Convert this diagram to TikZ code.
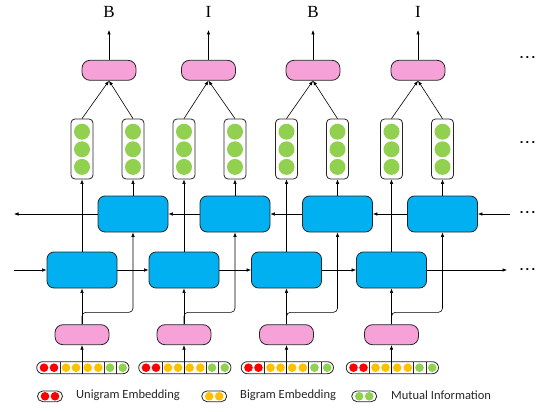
\documentclass[tikz,border=0pt]{standalone}
\usepackage{fontspec}
\setmainfont{Liberation Serif}
\newfontfamily\legfont{Carlito}
\newfontfamily\dotfont{Liberation Sans}
\usetikzlibrary{arrows.meta,calc}
\definecolor{pinkc}{HTML}{F7A1D9}
\definecolor{bluec}{HTML}{00B0F0}
\definecolor{greenc}{HTML}{92D050}
\definecolor{redc}{HTML}{FF0000}
\definecolor{yelc}{HTML}{FFC000}
\definecolor{edge}{HTML}{262626}
\tikzset{
  pinkbox/.style={draw=edge,fill=pinkc,line width=0.8pt,rounded corners=8pt,minimum width=54pt,minimum height=20pt,inner sep=0pt},
  lstm/.style={draw=edge,fill=bluec,line width=0.8pt,rounded corners=7pt,minimum width=70pt,minimum height=36pt,inner sep=0pt},
  gcol/.style={draw=edge,fill=white,line width=0.8pt,rounded corners=4pt,minimum width=22pt,minimum height=60pt,inner sep=0pt},
  gdot/.style={circle,fill=greenc,minimum size=16pt,inner sep=0pt},
  edot/.style={circle,minimum size=8.6pt,inner sep=0pt},
  barbox/.style={draw=edge,fill=white,line width=0.8pt,rounded corners=6pt,minimum width=92.3pt,minimum height=12pt,inner sep=0pt},
  legbox/.style={draw=edge,fill=white,line width=0.8pt,rounded corners=5.3pt,minimum width=25pt,minimum height=10.7pt,inner sep=0pt},
  sep/.style={draw=edge,line width=0.7pt},
  arr/.style={-{Latex[length=4.5pt,width=3.5pt]},line width=0.6pt,black},
  lbl/.style={font=\fontsize{17}{17}\selectfont,inner sep=0pt},
  legtxt/.style={font=\legfont\fontsize{12.5}{12.5}\selectfont,text=black!85,anchor=west,inner sep=0pt},
  dots/.style={font=\dotfont\fontsize{13}{13}\selectfont\bfseries,inner sep=0pt}
}
\begin{document}
\begin{tikzpicture}[x=1pt,y=-1pt]
\useasboundingbox (0,0) rectangle (544,412);
\foreach \L/\R/\T/\lab [count=\i] in {82/133/109/B, 184/235/208.5/I, 286.5/337.5/313/B, 391.5/442.5/418/I}{
  % top output
  \node[pinkbox] (t\i) at (\T,70.3) {};
  \coordinate (o\i) at (\T,30);
  \node[lbl] (lab\i) at (\T,12) {\lab};
  % green columns
  \node[gcol] (gl\i) at (\L,149) {};
  \node[gcol] (gr\i) at (\R,149) {};
  \foreach \yy in {131.7,149.3,166.9}{
    \node[gdot] at (\L,\yy) {};
    \node[gdot] at (\R,\yy) {};
  }
  % LSTM boxes
  \node[lstm] (b\i) at (\R,214) {};
  \node[lstm] (f\i) at (\L,270) {};
  % bottom pink
  \node[pinkbox] (p\i) at (\L,334.7) {};
  % embedding bar
  \node[barbox] (e\i) at (\L+0.85,367.7) {};
  \draw[sep] (\L-22,361.7) -- (\L-22,373.7);
  \draw[sep] (\L+22,361.7) -- (\L+22,373.7);
  \draw[sep] (\L+34.7,361.7) -- (\L+34.7,373.7);
  \foreach \dx in {-38,-28}{\node[edot,fill=redc] at (\L+\dx,367.7) {};}
  \foreach \dx in {-16,-6,5.7,16.3}{\node[edot,fill=yelc] at (\L+\dx,367.7) {};}
  \foreach \dx in {28,40.7}{\node[edot,fill=greenc] at (\L+\dx,367.7) {};}
  \coordinate (eb\i) at (\L,373.7);
  % connectors
  \draw[arr] (eb\i) -- (p\i.south);
  \draw[arr] (p\i.north) -- (f\i.south);
  \draw[arr,rounded corners=4pt] (p\i.north) -- ++(0,-12) -| (b\i.south);
  \draw[arr] (f\i.north) -- (gl\i.south);
  \draw[arr] (b\i.north) -- (gr\i.south);
  \draw[arr] (gl\i.north) -- (t\i.south);
  \draw[arr] (gr\i.north) -- (t\i.south);
  \draw[arr] (t\i.north) -- (o\i);
}
% forward chain
\coordinate (fs) at (14,270);
\coordinate (fe) at (507,270);
\draw[arr] (fs) -- (f1.west);
\draw[arr] (f1.east) -- (f2.west);
\draw[arr] (f2.east) -- (f3.west);
\draw[arr] (f3.east) -- (f4.west);
\draw[arr] (f4.east) -- (fe);
% backward chain
\coordinate (bs) at (510,214);
\coordinate (be) at (14,214);
\draw[arr] (bs) -- (b4.east);
\draw[arr] (b4.west) -- (b3.east);
\draw[arr] (b3.west) -- (b2.east);
\draw[arr] (b2.west) -- (b1.east);
\draw[arr] (b1.west) -- (be);
% ellipses
\node[dots] (d1) at (527.5,57.5) {.\kern2.2pt.\kern2.2pt.};
\node[dots] (d2) at (527.5,142.5) {.\kern2.2pt.\kern2.2pt.};
\node[dots] (d3) at (527.5,212.5) {.\kern2.2pt.\kern2.2pt.};
\node[dots] (d4) at (527.5,269.5) {.\kern2.2pt.\kern2.2pt.};
% legend
\node[legbox] (lg1) at (50,396.3) {};
\node[edot,fill=redc] at (45,396.3) {};
\node[edot,fill=redc] at (55,396.3) {};
\node[legtxt] (lt1) at (76,395.5) {Unigram Embedding};
\node[legbox] (lg2) at (214.2,396.3) {};
\node[edot,fill=yelc] at (209.2,396.3) {};
\node[edot,fill=yelc] at (219.2,396.3) {};
\node[legtxt] (lt2) at (240,395.5) {Bigram Embedding};
\node[legbox] (lg3) at (364.2,396.3) {};
\node[edot,fill=greenc] at (359.2,396.3) {};
\node[edot,fill=greenc] at (369.2,396.3) {};
\node[legtxt] (lt3) at (391,395.5) {Mutual Information};
\end{tikzpicture}
\end{document}
